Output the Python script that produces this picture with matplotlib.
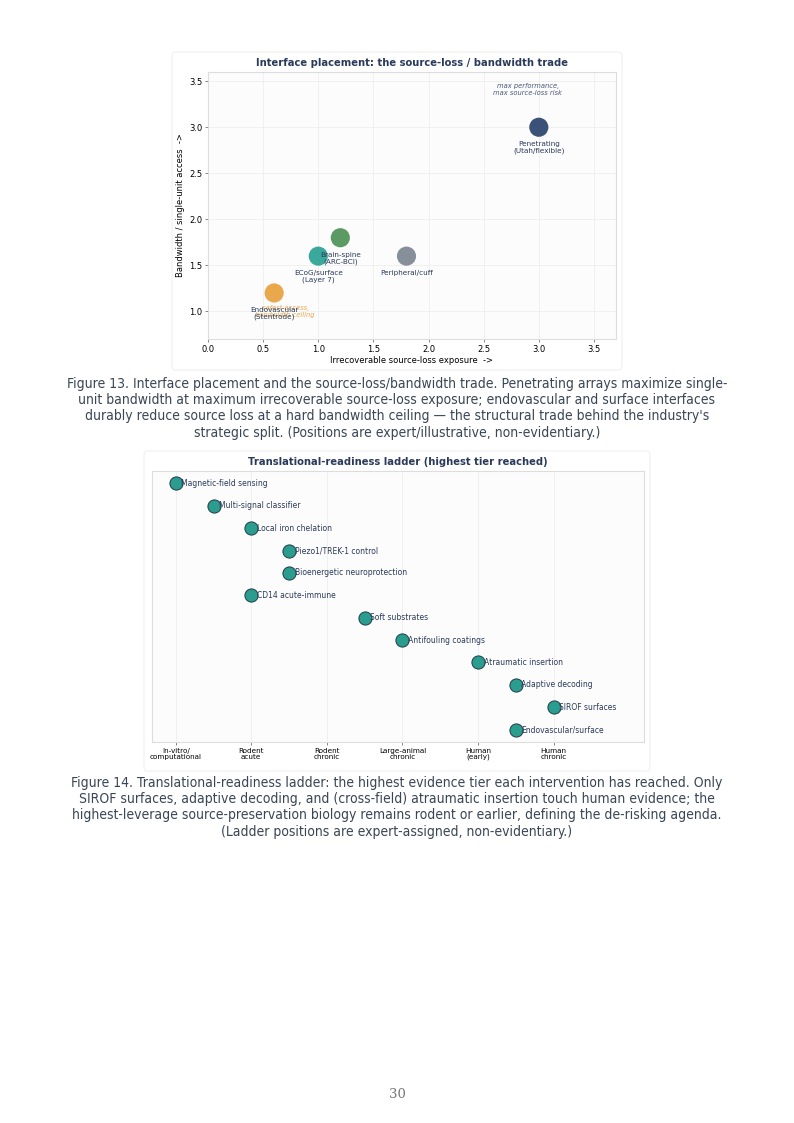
import matplotlib
matplotlib.use("Agg")
import matplotlib.pyplot as plt
from matplotlib.patches import FancyBboxPatch

# ---- Figure 13 data ----
iface_names = ["Penetrating\n(Utah/flexible)", "Brain-spine\n(ARC-BCI)", "ECoG/surface\n(Layer 7)",
               "Peripheral/cuff", "Endovascular\n(Stentrode)"]
iface_loss = [3.0, 1.2, 1.0, 1.8, 0.6]
iface_bandwidth = [3.0, 1.8, 1.6, 1.6, 1.2]
iface_colors = ["#3b5278", "#5b9a63", "#3aa99b", "#878f9b", "#eaa84c"]

# ---- Figure 14 data ----
tiers = ["In-vitro/\ncomputational", "Rodent\nacute", "Rodent\nchronic",
         "Large-animal\nchronic", "Human\n(early)", "Human\nchronic"]
interventions = ["Magnetic-field sensing", "Multi-signal classifier", "Local iron chelation",
                 "Piezo1/TREK-1 control", "Bioenergetic neuroprotection", "CD14 acute-immune",
                 "Soft substrates", "Antifouling coatings", "Atraumatic insertion",
                 "Adaptive decoding", "SIROF surfaces", "Endovascular/surface"]
tier_reached = [0, 0.5, 1, 1.5, 1.5, 1, 2.5, 3, 4, 4.5, 5, 4.5]

caption13 = ("Figure 13. Interface placement and the source-loss/bandwidth trade. Penetrating arrays maximize single-\n"
             "unit bandwidth at maximum irrecoverable source-loss exposure; endovascular and surface interfaces\n"
             "durably reduce source loss at a hard bandwidth ceiling \u2014 the structural trade behind the industry's\n"
             "strategic split. (Positions are expert/illustrative, non-evidentiary.)")
caption14 = ("Figure 14. Translational-readiness ladder: the highest evidence tier each intervention has reached. Only\n"
             "SIROF surfaces, adaptive decoding, and (cross-field) atraumatic insertion touch human evidence; the\n"
             "highest-leverage source-preservation biology remains rodent or earlier, defining the de-risking agenda.\n"
             "(Ladder positions are expert-assigned, non-evidentiary.)")

NAVY = "#2a3a5a"
W, H = 794, 1123

fig = plt.figure(figsize=(W / 100, H / 100), dpi=100)


def px_axes(left, top, right, bottom):
    return fig.add_axes([left / W, 1 - bottom / H, (right - left) / W, (bottom - top) / H])


def frame(left, top, right, bottom):
    box = FancyBboxPatch((left / W, 1 - bottom / H), (right - left) / W, (bottom - top) / H,
                         boxstyle="round,pad=0,rounding_size=0.004", transform=fig.transFigure,
                         facecolor="#ffffff", edgecolor="#f0f0f0", linewidth=0.8, zorder=-1)
    fig.patches.append(box)


def style_axes(ax):
    ax.set_facecolor("#fcfcfc")
    for s in ax.spines.values():
        s.set_color("#dddddd")
        s.set_linewidth(0.8)


# ---------- Figure 13 ----------
frame(172, 52, 622, 370)
ax1 = px_axes(208, 72, 616, 339)
style_axes(ax1)
ax1.grid(True, color="#eeeeee", linewidth=0.6)
ax1.set_axisbelow(True)
ax1.scatter(iface_loss, iface_bandwidth, s=190, c=iface_colors, edgecolors="none", zorder=3)
for x, y, name in zip(iface_loss, iface_bandwidth, iface_names):
    ax1.annotate(name, (x, y), xytext=(0, -10), textcoords="offset points",
                 ha="center", va="top", fontsize=5.2, color=NAVY, zorder=4, linespacing=1.1)
ax1.text(2.9, 3.41, "max performance,\nmax source-loss risk", ha="center", va="center",
         fontsize=4.9, style="italic", color="#4a5a78", linespacing=1.1)
ax1.text(0.7, 1.0, "safest access,\nbandwidth ceiling", ha="center", va="center",
         fontsize=4.9, style="italic", color="#eaa84c", linespacing=1.1, zorder=2)
ax1.set_xlim(0, 3.7)
ax1.set_ylim(0.7, 3.6)
ax1.set_xticks([0, 0.5, 1.0, 1.5, 2.0, 2.5, 3.0, 3.5])
ax1.set_yticks([1.0, 1.5, 2.0, 2.5, 3.0, 3.5])
ax1.tick_params(labelsize=6, length=2, width=0.5, color="#555555", pad=2)
ax1.set_xlabel("Irrecoverable source-loss exposure  ->", fontsize=6, labelpad=2)
ax1.set_ylabel("Bandwidth / single-unit access  ->", fontsize=6, labelpad=3)
ax1.set_title("Interface placement: the source-loss / bandwidth trade", fontsize=7.2,
              fontweight="bold", color=NAVY, pad=4)

fig.text(0.5, 1 - 377 / H, caption13, ha="center", va="top", fontsize=10,
         fontstretch="condensed", color="#3a4555", linespacing=1.2)

# ---------- Figure 14 ----------
frame(144, 451, 650, 771)
ax2 = px_axes(152.3, 471, 644.3, 742)
style_axes(ax2)
ax2.grid(True, axis="x", color="#eeeeee", linewidth=0.6)
ax2.set_axisbelow(True)
ypos = list(range(len(interventions)))
ax2.scatter(tier_reached, ypos, s=90, c="#2a9d8f", edgecolors="#1f3a4a", linewidths=0.7, zorder=3)
for x, y, name in zip(tier_reached, ypos, interventions):
    ax2.annotate(name, (x, y), xytext=(4, 0), textcoords="offset points",
                 ha="left", va="center", fontsize=5.5, color=NAVY, zorder=4)
ax2.set_xlim(-0.31, 6.2)
ax2.set_ylim(11.55, -0.55)
ax2.set_yticks([])
ax2.set_xticks(range(len(tiers)))
ax2.set_xticklabels(tiers, fontsize=5.2, linespacing=1.0)
ax2.tick_params(axis="x", length=2, width=0.5, color="#555555", pad=2)
ax2.set_title("Translational-readiness ladder (highest tier reached)", fontsize=7.2,
              fontweight="bold", color=NAVY, pad=4)

fig.text(0.5, 1 - 776 / H, caption14, ha="center", va="top", fontsize=10,
         fontstretch="condensed", color="#3a4555", linespacing=1.2)

fig.text(0.5, 1 - 1094 / H, "30", ha="center", va="center", fontsize=9.5,
         color="#777777", family="DejaVu Serif")

fig.savefig("out.png", dpi=100)
